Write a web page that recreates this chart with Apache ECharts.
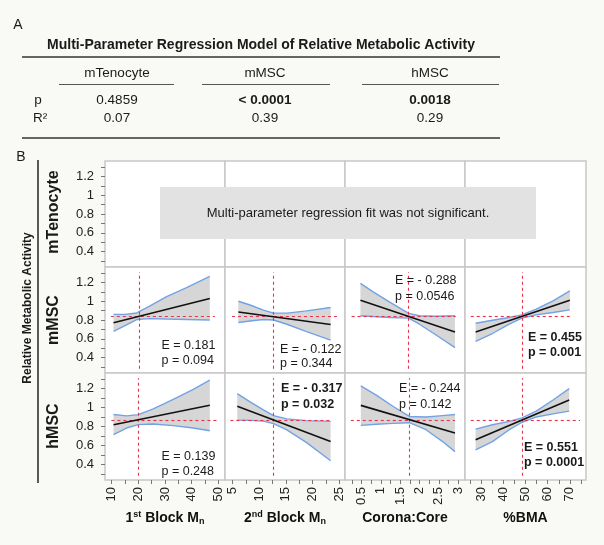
<!DOCTYPE html>
<html><head><meta charset="utf-8">
<script src="https://cdn.jsdelivr.net/npm/echarts@6/dist/echarts.min.js"></script>
<style>html,body{margin:0;padding:0;background:#f9f9f6}#c{width:604px;height:545px}</style>
</head><body><div id="c"></div>
<script>
// ---------------- DATA ----------------
const tableTitle = 'Multi-Parameter Regression Model of Relative Metabolic Activity';
const tableCols = ['mTenocyte', 'mMSC', 'hMSC'];
const tableP = ['0.4859', '< 0.0001', '0.0018'];
const tablePBold = [false, true, true];
const tableR2 = ['0.07', '0.39', '0.29'];

const rowNames = ['mTenocyte', 'mMSC', 'hMSC'];
const yLabelValues = [0.4, 0.6, 0.8, 1, 1.2];
const yTickValues = [0.3, 0.4, 0.5, 0.6, 0.7, 0.8, 0.9, 1.0, 1.1, 1.2, 1.3];
const yMin = 0.235, yMax = 1.365;

const xMins = [7.5, 3.6, 0.07, 22.6];
const xMaxs = [52.5, 26.1, 3.18, 77.3];
const xLabelValues = [[10, 20, 30, 40, 50], [5, 10, 15, 20, 25], [0.5, 1, 1.5, 2, 2.5, 3], [30, 40, 50, 60, 70]];
const xTickValues = [
  [10, 15, 20, 25, 30, 35, 40, 45, 50],
  [5, 7.5, 10, 12.5, 15, 17.5, 20, 22.5, 25],
  [0.25, 0.5, 0.75, 1, 1.25, 1.5, 1.75, 2, 2.25, 2.5, 2.75, 3],
  [25, 30, 35, 40, 45, 50, 55, 60, 65, 70, 75]
];

// mMSC panels
const mmscB1X = [10.7, 15.0, 19.4, 24.4, 30.6, 38.1, 46.8];
const mmscB1Upper = [0.86, 0.86, 0.875, 0.95, 1.05, 1.145, 1.265];
const mmscB1Lower = [0.68, 0.74, 0.805, 0.815, 0.81, 0.805, 0.80];
const mmscB1Fit = [[10.7, 0.77], [46.8, 1.03]];

const mmscB2X = [6.1, 8.3, 10.8, 12.7, 15.2, 18.9, 23.4];
const mmscB2Upper = [1.0, 0.96, 0.905, 0.873, 0.873, 0.897, 0.933];
const mmscB2Lower = [0.773, 0.79, 0.805, 0.80, 0.755, 0.677, 0.585];
const mmscB2Fit = [[6.1, 0.886], [23.4, 0.752]];

const mmscCCX = [0.47, 0.80, 1.23, 1.72, 2.0, 2.43, 2.92];
const mmscCCUpper = [1.19, 1.10, 0.99, 0.87, 0.845, 0.84, 0.845];
const mmscCCLower = [0.845, 0.837, 0.827, 0.82, 0.755, 0.64, 0.505];
const mmscCCFit = [[0.47, 1.01], [2.92, 0.673]];

const mmscBMAX = [27.4, 35.0, 42.6, 48.3, 54.8, 62.4, 70.0];
const mmscBMAUpper = [0.766, 0.798, 0.827, 0.855, 0.915, 1.004, 1.11];
const mmscBMALower = [0.571, 0.656, 0.755, 0.82, 0.855, 0.88, 0.908];
const mmscBMAFit = [[27.4, 0.673], [70.0, 1.011]];

// hMSC panels
const hmscB1X = [10.7, 15.6, 20.0, 25.6, 33.1, 40.6, 46.8];
const hmscB1Upper = [0.926, 0.912, 0.925, 0.986, 1.086, 1.193, 1.289];
const hmscB1Lower = [0.713, 0.784, 0.82, 0.827, 0.809, 0.784, 0.755];
const hmscB1Fit = [[10.7, 0.819], [46.8, 1.025]];

const hmscB2X = [5.9, 8.3, 10.8, 12.7, 15.2, 18.9, 23.4];
const hmscB2Upper = [1.147, 1.06, 0.975, 0.915, 0.88, 0.862, 0.854];
const hmscB2Lower = [0.867, 0.865, 0.857, 0.83, 0.765, 0.63, 0.438];
const hmscB2Fit = [[5.9, 1.014], [23.4, 0.641]];

const hmscCCX = [0.48, 0.89, 1.31, 1.74, 2.17, 2.6, 2.92];
const hmscCCUpper = [1.228, 1.129, 1.014, 0.906, 0.90, 0.915, 0.926];
const hmscCCLower = [0.812, 0.823, 0.833, 0.84, 0.766, 0.641, 0.535];
const hmscCCFit = [[0.48, 1.023], [2.92, 0.731]];

const hmscBMAX = [27.4, 35.0, 42.6, 48.4, 54.8, 62.4, 69.7];
const hmscBMAUpper = [0.773, 0.819, 0.854, 0.891, 0.962, 1.08, 1.2];
const hmscBMALower = [0.553, 0.641, 0.766, 0.845, 0.901, 0.933, 0.962];
const hmscBMAFit = [[27.4, 0.659], [69.7, 1.08]];

// reference lines (means)
const mmscMeanX = [20.3, 12.7, 1.72, 48.3];
const hmscMeanX = [20.1, 12.7, 1.74, 48.4];
const mmscMeanY = 0.835;
const hmscMeanY = 0.867;
const mmscHLineX = [[9.7, 48.7], [4.9, 25.1], [0.24, 2.94], [25.2, 70.0]];
const hmscHLineX = [[9.9, 49.8], [4.6, 23.4], [0.22, 2.92], [25.2, 74.6]];
const vLineY = [0.28, 1.31];

const mmscE = ['E = 0.181', 'E = - 0.122', 'E = - 0.288', 'E = 0.455'];
const mmscPv = ['p = 0.094', 'p = 0.344', 'p = 0.0546', 'p = 0.001'];
const mmscBold = [false, false, false, true];
const hmscE = ['E = 0.139', 'E = - 0.317', 'E = - 0.244', 'E = 0.551'];
const hmscPv = ['p = 0.248', 'p = 0.032', 'p = 0.142', 'p = 0.0001'];
const hmscBold = [false, true, false, true];

const notSigText = 'Multi-parameter regression fit was not significant.';

// ---------------- LAYOUT / STYLE ----------------
const FONT = '"Liberation Sans", Arial, Helvetica, sans-serif';
const gridLefts = [105, 225, 345, 465];
const gridWs = [120, 120, 120, 121];
const gridTops = [161, 267, 373];
const gridHs = [106, 106, 107];
const BLUE = '#72a2e6', BAND = '#d6d6d6', RED = '#e8334f';
const mmscAnnPos = [[161.5, 346, 361], [280, 349.5, 364], [395, 280.5, 296.5], [528, 338, 353]];
const hmscAnnPos = [[161.5, 457, 471.5], [281, 389, 404.5], [399, 389, 405], [524, 448, 463]];

const panels = [
  {row: 1, col: 0, x: mmscB1X, up: mmscB1Upper, lo: mmscB1Lower, fit: mmscB1Fit, mx: mmscMeanX[0], my: mmscMeanY, h: mmscHLineX[0]},
  {row: 1, col: 1, x: mmscB2X, up: mmscB2Upper, lo: mmscB2Lower, fit: mmscB2Fit, mx: mmscMeanX[1], my: mmscMeanY, h: mmscHLineX[1]},
  {row: 1, col: 2, x: mmscCCX, up: mmscCCUpper, lo: mmscCCLower, fit: mmscCCFit, mx: mmscMeanX[2], my: mmscMeanY, h: mmscHLineX[2]},
  {row: 1, col: 3, x: mmscBMAX, up: mmscBMAUpper, lo: mmscBMALower, fit: mmscBMAFit, mx: mmscMeanX[3], my: mmscMeanY, h: mmscHLineX[3]},
  {row: 2, col: 0, x: hmscB1X, up: hmscB1Upper, lo: hmscB1Lower, fit: hmscB1Fit, mx: hmscMeanX[0], my: hmscMeanY, h: hmscHLineX[0]},
  {row: 2, col: 1, x: hmscB2X, up: hmscB2Upper, lo: hmscB2Lower, fit: hmscB2Fit, mx: hmscMeanX[1], my: hmscMeanY, h: hmscHLineX[1]},
  {row: 2, col: 2, x: hmscCCX, up: hmscCCUpper, lo: hmscCCLower, fit: hmscCCFit, mx: hmscMeanX[2], my: hmscMeanY, h: hmscHLineX[2]},
  {row: 2, col: 3, x: hmscBMAX, up: hmscBMAUpper, lo: hmscBMALower, fit: hmscBMAFit, mx: hmscMeanX[3], my: hmscMeanY, h: hmscHLineX[3]}
];

const xTitles = [
  '{a|1}{sup|st}{a| Block M}{sub|n}',
  '{a|2}{sup|nd}{a| Block M}{sub|n}',
  '{a|Corona:Core}',
  '{a|%BMA}'
];
const titleRich = {
  a: {fontSize: 14, fontWeight: 'bold', color: '#111', fontFamily: FONT, lineHeight: 16, verticalAlign: 'middle'},
  sup: {fontSize: 9, fontWeight: 'bold', color: '#111', fontFamily: FONT, lineHeight: 10, verticalAlign: 'top'},
  sub: {fontSize: 9, fontWeight: 'bold', color: '#111', fontFamily: FONT, lineHeight: 10, padding: [10, 0, 0, 0], verticalAlign: 'bottom'}
};

const option = {
  backgroundColor: '#f9f9f6',
  animation: false,
  grid: [], xAxis: [], yAxis: [], series: [], graphic: []
};

for (let r = 0; r < 3; r++) {
  for (let c = 0; c < 4; c++) {
    const g = r * 4 + c;
    option.grid.push({left: gridLefts[c], top: gridTops[r], width: gridWs[c], height: gridHs[r],
      show: true, backgroundColor: '#ffffff', borderColor: '#c8c8c8', borderWidth: 1.5});
    option.xAxis.push({
      type: 'value', gridIndex: g, min: xMins[c], max: xMaxs[c],
      axisLine: {show: false}, splitLine: {show: false},
      axisTick: {show: r === 2, length: 4, customValues: xTickValues[c], lineStyle: {color: '#777'}},
      axisLabel: {show: r === 2, customValues: xLabelValues[c], rotate: 90, fontSize: 13, color: '#222', margin: 7, fontFamily: FONT},
      name: r === 2 ? xTitles[c] : '', nameLocation: 'middle', nameGap: 30,
      nameTextStyle: {rich: titleRich}
    });
    option.yAxis.push({
      type: 'value', gridIndex: g, min: yMin, max: yMax,
      axisLine: {show: false}, splitLine: {show: false},
      axisTick: {show: c === 0, length: 4, customValues: yTickValues, lineStyle: {color: '#777'}},
      axisLabel: {show: c === 0, customValues: yLabelValues, fontSize: 13, color: '#222', margin: 11, fontFamily: FONT}
    });
  }
}

panels.forEach(p => {
  const g = p.row * 4 + p.col;
  const common = {type: 'line', xAxisIndex: g, yAxisIndex: g, symbol: 'none', silent: true};
  option.series.push({
    type: 'custom', xAxisIndex: g, yAxisIndex: g, silent: true, z: 1,
    data: p.x.map((v, i) => [v, p.lo[i], p.up[i]]),
    encode: {x: 0, y: [1, 2]},
    renderItem: (params, api) => {
      if (params.dataIndex !== 0) return null;
      const pts = [];
      p.x.forEach((v, i) => pts.push(api.coord([v, p.up[i]])));
      for (let i = p.x.length - 1; i >= 0; i--) pts.push(api.coord([p.x[i], p.lo[i]]));
      return {type: 'polygon', shape: {points: pts}, style: {fill: BAND}};
    }
  });
  option.series.push(Object.assign({}, common, {
    data: p.x.map((v, i) => [v, p.up[i]]), lineStyle: {color: BLUE, width: 1.4}, z: 3
  }));
  option.series.push(Object.assign({}, common, {
    data: p.x.map((v, i) => [v, p.lo[i]]), lineStyle: {color: BLUE, width: 1.4}, z: 3
  }));
  option.series.push(Object.assign({}, common, {
    data: p.fit, lineStyle: {color: '#111', width: 1.6}, z: 5,
    markLine: {
      silent: true, symbol: ['none', 'none'], label: {show: false},
      lineStyle: {color: RED, type: [3, 3], width: 1.1},
      emphasis: {disabled: true},
      data: [
        [{coord: [p.mx, vLineY[0]]}, {coord: [p.mx, vLineY[1]]}],
        [{coord: [p.h[0], p.my]}, {coord: [p.h[1], p.my]}]
      ]
    }
  }));
});

// ---------------- GRAPHICS (text / table) ----------------
const G = option.graphic;
function txt(x, y, s, size, bold, align, extra) {
  G.push(Object.assign({type: 'text', x: x, y: y, z: 100, style: {text: s, fontSize: size, fontWeight: bold ? 'bold' : 'normal',
    fontFamily: FONT, fill: '#1a1a1a', textAlign: align || 'center', textVerticalAlign: 'middle'}}, extra || {}));
}
function hline(x1, x2, y, w, col) {
  G.push({type: 'line', z: 100, shape: {x1: x1, y1: y, x2: x2, y2: y}, style: {stroke: col || '#333', lineWidth: w}});
}
txt(18, 25, 'A', 14, false);
txt(261, 45, tableTitle, 14, true);
hline(22, 500, 57, 1.5);
const tableX = [117, 265, 430];
const underl = [[59, 174], [202, 330], [362, 499]];
tableCols.forEach((s, i) => { txt(tableX[i], 73, s, 13.5, false); hline(underl[i][0], underl[i][1], 84.5, 1, '#555'); });
txt(38, 100, 'p', 13.5, false);
txt(40, 118, 'R²', 13.5, false);
tableP.forEach((s, i) => txt(tableX[i], 100, s, 13.5, tablePBold[i]));
tableR2.forEach((s, i) => txt(tableX[i], 118, s, 13.5, false));
hline(22, 500, 138, 1.5);

txt(21, 157, 'B', 14, false);
txt(27.5, 308, 'Relative Metabolic Activity', 12, true, 'center', {rotation: Math.PI / 2});
G.push({type: 'line', z: 100, shape: {x1: 38, y1: 160, x2: 38, y2: 483}, style: {stroke: '#222', lineWidth: 1.5}});
const rowCentersY = [212, 320, 426];
rowNames.forEach((s, i) => txt(54, rowCentersY[i], s, 16, true, 'center', {rotation: Math.PI / 2}));

G.push({type: 'rect', z: 100, shape: {x: 160, y: 187, width: 376, height: 52}, style: {fill: '#e2e2e2'}});
txt(348, 213, notSigText, 13, false);

mmscE.forEach((s, i) => {
  const q = mmscAnnPos[i];
  txt(q[0], q[1], s, 12.5, mmscBold[i], 'left');
  txt(q[0], q[2], mmscPv[i], 12.5, mmscBold[i], 'left');
});
hmscE.forEach((s, i) => {
  const q = hmscAnnPos[i];
  txt(q[0], q[1], s, 12.5, hmscBold[i], 'left');
  txt(q[0], q[2], hmscPv[i], 12.5, hmscBold[i], 'left');
});

const chart = echarts.init(document.getElementById('c'), null, {renderer: 'canvas'});
chart.setOption(option);
</script></body></html>
